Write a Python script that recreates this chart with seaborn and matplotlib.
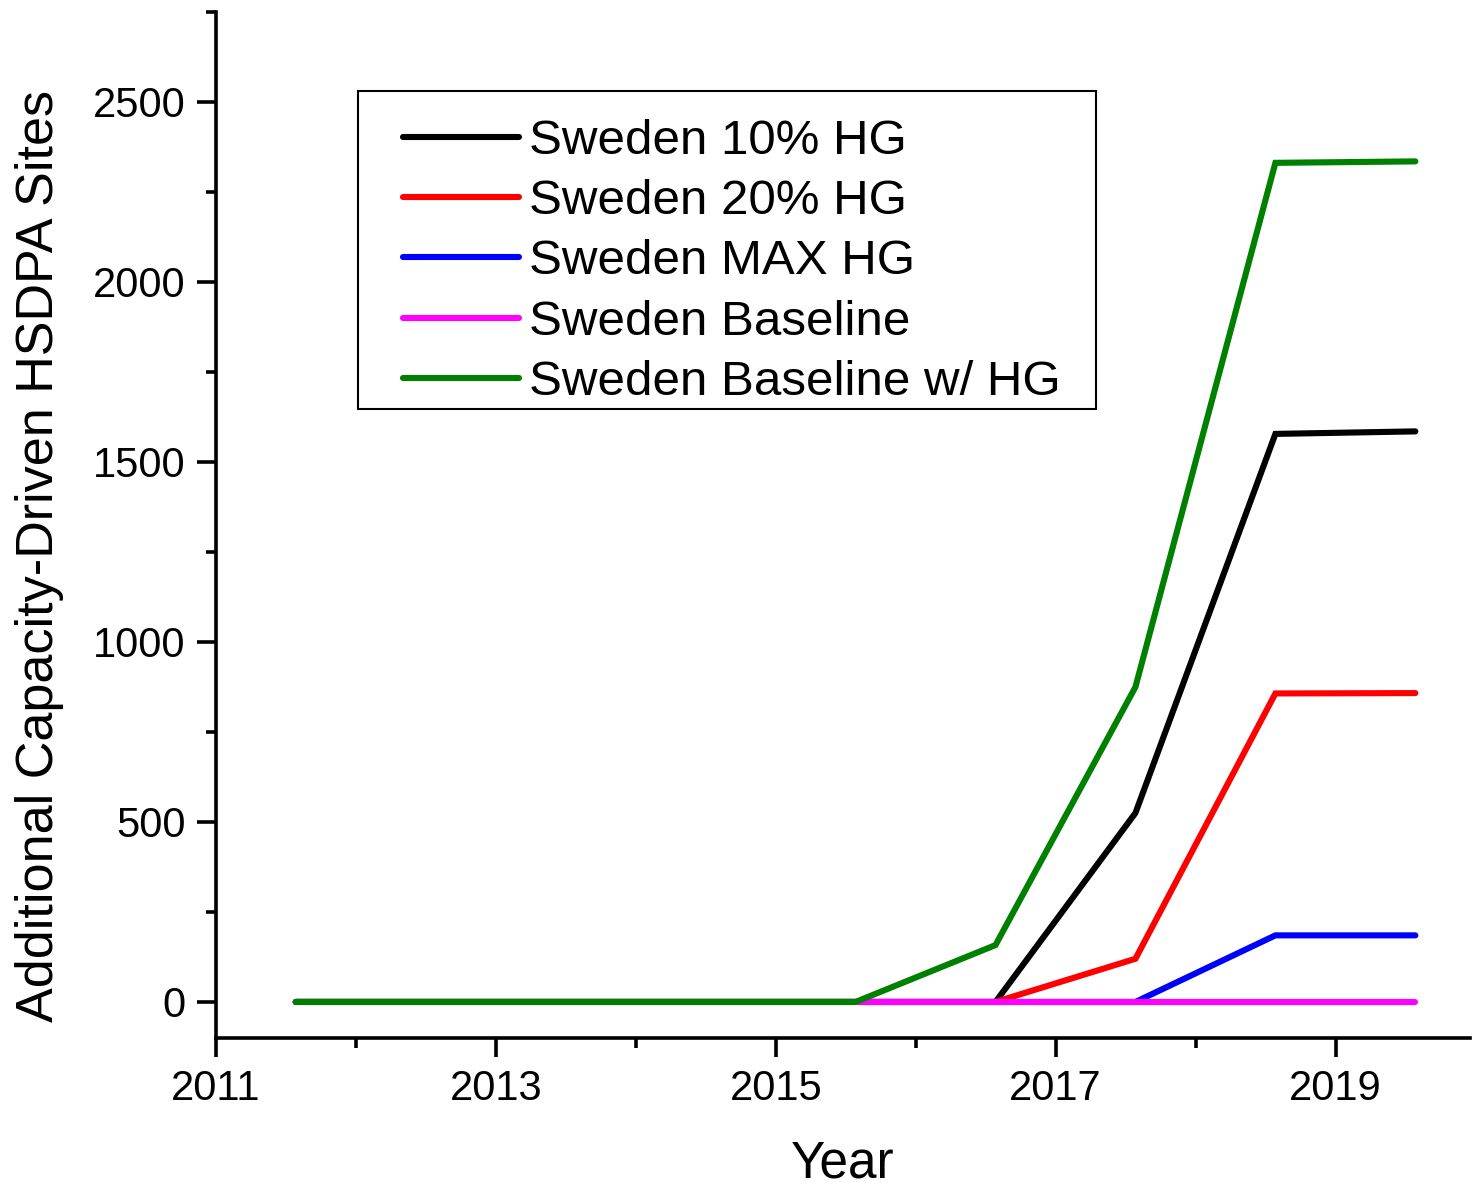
import numpy as np
import pandas as pd
import matplotlib
matplotlib.use("Agg")
import matplotlib.pyplot as plt
from matplotlib.patches import Rectangle
import seaborn as sns
from matplotlib.ticker import MultipleLocator

# Mid-year sample points, 2011-2019
years = [2011.57, 2012.57, 2013.57, 2014.57, 2015.57, 2016.57, 2017.57, 2018.57, 2019.57]

sweden_10 = [0, 0, 0, 0, 0, 0, 525, 1578, 1585]
sweden_20 = [0, 0, 0, 0, 0, 0, 120, 857, 858]
sweden_max = [0, 0, 0, 0, 0, 0, 0, 185, 185]
sweden_base = [0, 0, 0, 0, 0, 0, 0, 0, 0]
sweden_base_hg = [0, 0, 0, 0, 0, 158, 875, 2331, 2335]

series_names = ["Sweden 10% HG", "Sweden 20% HG", "Sweden MAX HG",
                "Sweden Baseline", "Sweden Baseline w/ HG"]
series_values = [sweden_10, sweden_20, sweden_max, sweden_base, sweden_base_hg]
colors = ["#000000", "#ff0000", "#0000ff", "#ff00ff", "#008000"]

df = pd.concat(
    [pd.DataFrame({"Year": years, "Sites": vals, "Series": name})
     for name, vals in zip(series_names, series_values)],
    ignore_index=True,
)

sns.set_style("ticks")
plt.rcParams["font.family"] = ["Liberation Sans", "DejaVu Sans"]
plt.rcParams["text.color"] = "black"
plt.rcParams["axes.labelcolor"] = "black"
plt.rcParams["xtick.color"] = "black"
plt.rcParams["ytick.color"] = "black"
plt.rcParams["axes.edgecolor"] = "black"

fig = plt.figure(figsize=(14.72, 11.88), dpi=100)
ax = fig.add_axes([0.1467, 0.1263, 0.8519, 0.8636])

sns.lineplot(data=df, x="Year", y="Sites", hue="Series", hue_order=series_names,
             palette=colors, linewidth=4.4, ax=ax, legend=True)
for ln in ax.get_lines():
    ln.set_solid_capstyle("round")
    ln.set_solid_joinstyle("miter")

ax.set_xlim(2011, 2019.96)
ax.set_ylim(-100, 2750)
ax.set_xticks([2011, 2013, 2015, 2017, 2019])
ax.xaxis.set_minor_locator(MultipleLocator(1))
ax.set_yticks([0, 500, 1000, 1500, 2000, 2500])
ax.yaxis.set_minor_locator(MultipleLocator(250))

sns.despine(ax=ax, top=True, right=True)
for sp in ("left", "bottom"):
    ax.spines[sp].set_linewidth(2.6)

ax.tick_params(axis="both", which="major", direction="out", length=14, width=2.6,
               labelsize=30, pad=8, colors="black")
ax.tick_params(axis="both", which="minor", direction="out", length=7, width=2.6)

ax.set_xlabel("Year", fontsize=37, labelpad=22)
ax.set_ylabel("Additional Capacity-Driven HSDPA Sites", fontsize=37.5)
ax.yaxis.set_label_coords(-0.1215, 0.47)

# Legend frame drawn separately so its padding can differ per side
ax.add_patch(Rectangle((0.1132, 0.6131), 0.5886, 0.3099, transform=ax.transAxes,
                       facecolor="white", edgecolor="black", linewidth=1.5,
                       zorder=4, clip_on=False))
leg = ax.legend(loc="upper left", bbox_to_anchor=(0.1491, 0.8958), fontsize=35.5,
                frameon=False, handlelength=2.35, handletextpad=0.2,
                labelspacing=0.31, borderpad=0, borderaxespad=0)
leg.set_zorder(5)
for h in leg.get_lines():
    h.set_linewidth(4.4)
    h.set_solid_capstyle("round")

fig.savefig("out.png", dpi=100)
